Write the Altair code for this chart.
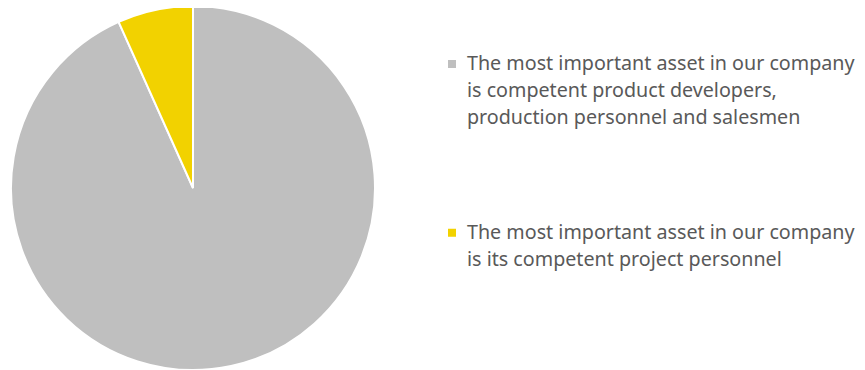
import altair as alt
import pandas as pd

categories = [
    "most important asset: product developers, production personnel and salesmen",
    "most important asset: project personnel",
]
values = [93.3, 6.7]
colors = ["#BFBFBF", "#F2D200"]

# legend text, wrapped as in the reference
legend_lines = [
    ["The most important asset in our company",
     "is competent product developers,",
     "production personnel and salesmen"],
    ["The most important asset in our company",
     "is its competent project personnel"],
]
legend_first_slot = [0, 6.25]

df = pd.DataFrame({"category": categories, "value": values, "order": [0, 1]})

rows = []
for cat, lines, start in zip(categories, legend_lines, legend_first_slot):
    for i, line in enumerate(lines):
        rows.append({"category": cat, "line": line, "slot": start + i, "first": i == 0})
leg = pd.DataFrame(rows)

color_scale = alt.Scale(domain=categories, range=colors)
slot_scale = alt.Scale(domain=[0, 10], range=[56, 326])

pie = alt.Chart(df).mark_arc(radius=182, stroke="white", strokeWidth=2).encode(
    theta=alt.Theta("value:Q", stack=True),
    order=alt.Order("order:Q"),
    color=alt.Color("category:N", scale=color_scale, legend=None),
    x=alt.value(185),
    y=alt.value(180),
)

symbols = alt.Chart(leg).transform_filter("datum.first").mark_square(size=64, opacity=1).encode(
    x=alt.value(444),
    y=alt.Y("slot:Q", scale=slot_scale, axis=None),
    color=alt.Color("category:N", scale=color_scale, legend=None),
)

texts = alt.Chart(leg).mark_text(
    align="left", baseline="middle", font="Noto Sans", fontSize=19.7, color="#595959"
).encode(
    x=alt.value(459),
    y=alt.Y("slot:Q", scale=slot_scale, axis=None),
    text="line:N",
)

chart = alt.layer(pie, symbols, texts).properties(
    width=849, height=362, padding=0, autosize=alt.AutoSizeParams(type="none")
).configure_view(stroke=None)

chart.save("out.html", embed_options={"renderer": "svg", "actions": False})
